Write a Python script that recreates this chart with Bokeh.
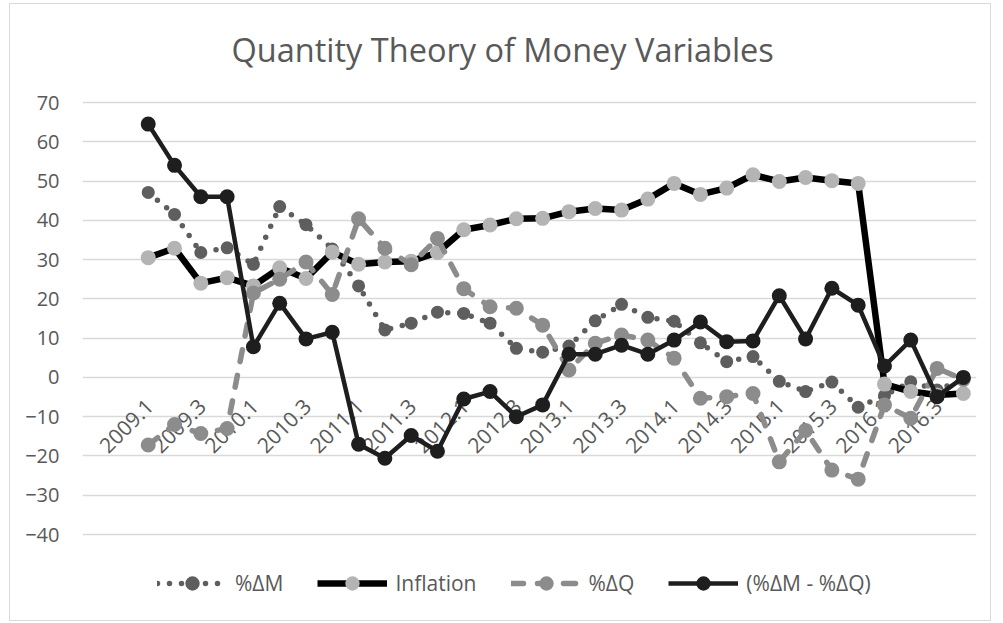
import numpy as np
from bokeh.plotting import figure
from bokeh.models import Range1d, Legend, LegendItem, ColumnDataSource, FixedTicker, Label
from bokeh.core.properties import value
from bokeh.embed import file_html
from bokeh.resources import INLINE

quarters = ["2009.1", "2009.2", "2009.3", "2009.4", "2010.1", "2010.2", "2010.3", "2010.4",
            "2011.1", "2011.2", "2011.3", "2011.4", "2012.1", "2012.2", "2012.3", "2012.4",
            "2013.1", "2013.2", "2013.3", "2013.4", "2014.1", "2014.2", "2014.3", "2014.4",
            "2015.1", "2015.2", "2015.3", "2015.4", "2016.1", "2016.2", "2016.3", "2016.4"]

tick_labels = ["2009.1", "2009.3", "2010.1", "2010.3", "2011.1", "2011.3", "2012.1", "2012.3",
               "2013.1", "2013.3", "2014.1", "2014.3", "2015.1", "2015.3", "2016.1", "2016.3"]

pct_dm = [47.1, 41.5, 31.8, 33.0, 28.8, 43.5, 38.9, 32.7, 23.3, 12.1, 13.8, 16.6, 16.3, 13.8, 7.4, 6.4,
          8.0, 14.4, 18.6, 15.3, 14.3, 8.8, 4.0, 5.3, -1.0, -3.6, -1.2, -7.6, -4.6, -1.1, -3.2, -0.5]

inflation = [30.5, 32.9, 24.0, 25.4, 23.3, 27.9, 25.2, 31.9, 28.8, 29.4, 29.6, 31.8, 37.6, 38.8, 40.4, 40.5,
             42.2, 43.0, 42.6, 45.4, 49.4, 46.6, 48.2, 51.6, 49.9, 50.9, 50.1, 49.4, -1.7, -3.6, -4.5, -4.1]

pct_dq = [-17.2, -12.0, -14.3, -13.0, 21.5, 25.0, 29.4, 21.1, 40.4, 32.9, 28.7, 35.4, 22.6, 18.0, 17.6, 13.3,
          1.9, 8.7, 10.8, 9.5, 4.9, -5.3, -4.9, -4.1, -21.5, -13.5, -23.6, -25.9, -7.0, -10.4, 2.3, -0.5]

dm_minus_dq = [64.5, 54.0, 46.0, 46.0, 7.8, 18.9, 9.8, 11.5, -17.0, -20.6, -14.8, -18.8, -5.5, -3.6, -10.0, -7.0,
               5.9, 5.9, 8.2, 5.9, 9.5, 14.1, 9.1, 9.3, 20.8, 9.8, 22.7, 18.4, 2.9, 9.5, -4.9, 0.0]

y_ticks = [-40, -30, -20, -10, 0, 10, 20, 30, 40, 50, 60, 70]

TEXT = "#595959"
FONT = "Open Sans"

x = list(range(len(quarters)))

# frame: 894 x 594 px; 110 y-units span 432 px (70 .. -40); room above holds the title, below the legend
PX = 432 / 110
p = figure(width=982, height=618, x_range=Range1d(-2.5, 31.5),
           y_range=Range1d(70 - 504 / PX, 70 + 90 / PX),
           output_backend="svg", toolbar_location=None,
           min_border_left=72, min_border_right=16, min_border_top=8, min_border_bottom=16,
           styles={"border": "1px solid #d9d9d9", "margin-left": "9px", "margin-top": "3px"})

title = Label(x=149, y=557, x_units="screen", y_units="screen",
              text="Quantity Theory of Money Variables", text_align="left", text_baseline="middle",
              text_font=FONT, text_font_size="32.5px", text_font_style="normal", text_color=TEXT)
p.add_layout(title)

p.outline_line_color = None
p.xaxis.visible = False
p.xgrid.visible = False
p.ygrid.grid_line_color = "#d9d9d9"
p.ygrid.grid_line_width = 1.3
p.yaxis.ticker = FixedTicker(ticks=y_ticks)
p.yaxis.axis_line_color = None
p.yaxis.major_tick_line_color = None
p.yaxis.minor_tick_line_color = None
p.yaxis.major_label_text_font = FONT
p.yaxis.major_label_text_font_size = "20px"
p.yaxis.major_label_text_color = TEXT
p.yaxis.major_label_standoff = 17

# category labels along the zero line
lab_x = [quarters.index(t) for t in tick_labels]
lab_src = ColumnDataSource(dict(x=lab_x, y=[0] * len(lab_x), text=tick_labels))
p.text(x="x", y="y", text="text", source=lab_src, angle=np.pi / 4,
       text_align="right", text_baseline="middle", x_offset=1, y_offset=25,
       text_font=value(FONT), text_font_size="21px", text_color=TEXT)

r1l = p.line(x, pct_dm, line_color="#5e5e5e", line_width=5.5, line_dash="0 12", line_cap="round")
r1p = p.scatter(x, pct_dm, size=13, fill_color="#5e5e5e", line_color=None)

r2l = p.line(x, inflation, line_color="#000000", line_width=6.5, line_join="round")
r2p = p.scatter(x, inflation, size=15, fill_color="#b4b4b4", line_color=None)

r3l = p.line(x, pct_dq, line_color="#8c8c8c", line_width=5.5, line_dash="12 14", line_cap="round")
r3p = p.scatter(x, pct_dq, size=15, fill_color="#8c8c8c", line_color=None)

r4l = p.line(x, dm_minus_dq, line_color="#1e1e1e", line_width=4.5, line_join="round")
r4p = p.scatter(x, dm_minus_dq, size=15, fill_color="#1e1e1e", line_color=None)

legend = Legend(items=[
    LegendItem(label="%ΔM", renderers=[r1l, r1p]),
    LegendItem(label="Inflation", renderers=[r2l, r2p]),
    LegendItem(label="%ΔQ", renderers=[r3l, r3p]),
    LegendItem(label="(%ΔM - %ΔQ)", renderers=[r4l, r4p]),
], orientation="horizontal", location=(75, 5))
legend.border_line_color = None
legend.background_fill_alpha = 0
legend.label_text_font = FONT
legend.label_text_font_size = "21px"
legend.label_text_color = TEXT
legend.glyph_width = 70
legend.glyph_height = 36
legend.label_standoff = 8
legend.spacing = 34
legend.padding = 3
legend.margin = 0
p.add_layout(legend)

open("out.html", "w").write(file_html(p, INLINE))
